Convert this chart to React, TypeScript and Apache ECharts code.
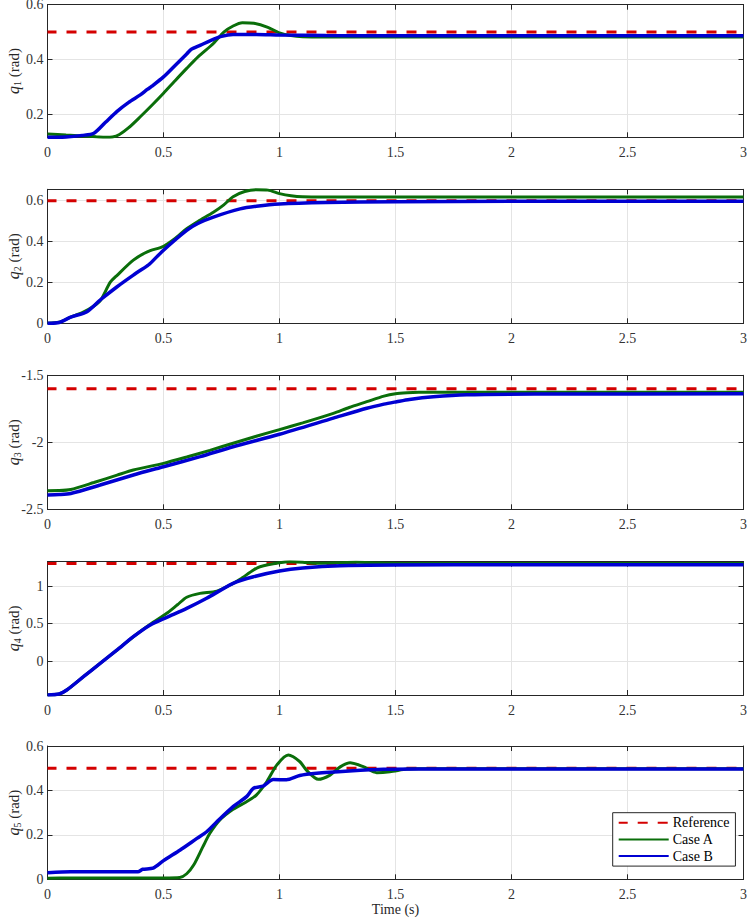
import React, { useEffect, useRef } from 'react';
import * as echarts from 'echarts';

// ---------- data ----------
const refValues = [0.5, 0.6, -1.6, 1.3, 0.5];
const yMins = [0.115, 0, -2.5, -0.453, 0];
const yMaxs = [0.6, 0.656, -1.5, 1.324, 0.6];
const yIntervals = [0.2, 0.2, 0.5, 0.5, 0.2];
const jointNums = ['1', '2', '3', '4', '5'];
const xMin = 0;
const xMax = 3;
const xInterval = 0.5;

const q1TimeA = [0, 0.08, 0.15, 0.21, 0.25, 0.28, 0.31, 0.35, 0.4, 0.45, 0.5, 0.55, 0.6, 0.65, 0.715, 0.76, 0.8, 0.84, 0.89, 0.95, 1.0, 1.05, 1.1, 1.2, 1.5, 2, 2.5, 3];
const q1CaseA = [0.127, 0.123, 0.12, 0.117, 0.115, 0.116, 0.125, 0.15, 0.19, 0.232, 0.276, 0.322, 0.367, 0.41, 0.458, 0.5, 0.522, 0.534, 0.532, 0.517, 0.497, 0.487, 0.483, 0.482, 0.482, 0.482, 0.482, 0.482];
const q1TimeB = [0, 0.08, 0.15, 0.2, 0.25, 0.3, 0.35, 0.4, 0.43, 0.45, 0.5, 0.55, 0.6, 0.62, 0.66, 0.7, 0.75, 0.8, 0.9, 1.0, 1.2, 1.5, 3];
const q1CaseB = [0.115, 0.116, 0.122, 0.13, 0.17, 0.21, 0.243, 0.27, 0.29, 0.302, 0.336, 0.378, 0.42, 0.437, 0.452, 0.468, 0.484, 0.491, 0.491, 0.489, 0.487, 0.486, 0.486];

const q2TimeA = [0, 0.05, 0.1, 0.15, 0.2, 0.23, 0.27, 0.3, 0.37, 0.43, 0.5, 0.55, 0.6, 0.65, 0.715, 0.76, 0.8, 0.85, 0.9, 0.95, 1.0, 1.05, 1.1, 1.2, 1.5, 3];
const q2CaseA = [0, 0.005, 0.03, 0.052, 0.085, 0.115, 0.2, 0.235, 0.309, 0.35, 0.377, 0.415, 0.463, 0.5, 0.544, 0.58, 0.62, 0.645, 0.654, 0.652, 0.635, 0.624, 0.619, 0.618, 0.618, 0.618];
const q2TimeB = [0, 0.05, 0.1, 0.17, 0.227, 0.3, 0.37, 0.428, 0.44, 0.5, 0.6, 0.65, 0.715, 0.83, 0.9, 1.0, 1.2, 1.5, 2, 3];
const q2CaseB = [0, 0.004, 0.03, 0.057, 0.114, 0.179, 0.236, 0.28, 0.29, 0.358, 0.455, 0.49, 0.52, 0.56, 0.573, 0.584, 0.591, 0.595, 0.597, 0.597];

const q3TimeA = [0, 0.05, 0.1, 0.2, 0.3, 0.37, 0.5, 0.6, 0.7, 0.8, 0.9, 1.0, 1.1, 1.232, 1.3, 1.376, 1.45, 1.5, 1.55, 1.6, 1.8, 2, 3];
const q3CaseA = [-2.361, -2.36, -2.352, -2.3, -2.245, -2.207, -2.157, -2.11, -2.06, -2.007, -1.955, -1.905, -1.855, -1.784, -1.74, -1.697, -1.655, -1.637, -1.63, -1.627, -1.626, -1.626, -1.626];
const q3TimeB = [0, 0.05, 0.1, 0.227, 0.37, 0.5, 0.658, 0.8, 1.0, 1.232, 1.376, 1.45, 1.505, 1.56, 1.663, 1.807, 2.1, 3];
const q3CaseB = [-2.393, -2.39, -2.382, -2.319, -2.244, -2.182, -2.107, -2.033, -1.94, -1.82, -1.746, -1.715, -1.697, -1.68, -1.66, -1.645, -1.64, -1.638];

const q4TimeA = [0, 0.05, 0.083, 0.155, 0.227, 0.3, 0.37, 0.443, 0.514, 0.56, 0.6, 0.657, 0.73, 0.8, 0.83, 0.888, 0.916, 1.0, 1.045, 1.1, 1.16, 1.25, 1.33, 1.42, 1.5, 2, 3];
const q4CaseA = [-0.453, -0.44, -0.387, -0.209, -0.031, 0.147, 0.324, 0.49, 0.636, 0.75, 0.85, 0.902, 0.93, 1.036, 1.09, 1.213, 1.257, 1.31, 1.324, 1.318, 1.302, 1.31, 1.316, 1.308, 1.302, 1.3, 1.3];
const q4TimeB = [0, 0.05, 0.083, 0.155, 0.227, 0.3, 0.37, 0.443, 0.514, 0.6, 0.686, 0.8, 0.888, 1.0, 1.1, 1.26, 1.5, 2, 3];
const q4CaseB = [-0.453, -0.44, -0.387, -0.209, -0.031, 0.147, 0.324, 0.48, 0.582, 0.702, 0.836, 1.036, 1.124, 1.2, 1.24, 1.271, 1.28, 1.283, 1.283];

const q5TimeA = [0, 0.1, 0.3, 0.5, 0.57, 0.6, 0.63, 0.67, 0.7, 0.743, 0.8, 0.858, 0.9, 0.945, 0.988, 1.038, 1.088, 1.117, 1.167, 1.218, 1.26, 1.304, 1.361, 1.419, 1.476, 1.548, 1.6, 2, 3];
const q5CaseA = [0.005, 0.006, 0.006, 0.006, 0.008, 0.025, 0.064, 0.147, 0.207, 0.267, 0.315, 0.349, 0.379, 0.439, 0.514, 0.559, 0.529, 0.49, 0.45, 0.469, 0.505, 0.525, 0.507, 0.48, 0.484, 0.496, 0.498, 0.498, 0.498];
const q5TimeB = [0, 0.1, 0.39, 0.41, 0.455, 0.5, 0.572, 0.644, 0.686, 0.73, 0.8, 0.858, 0.888, 0.93, 0.973, 1.03, 1.087, 1.16, 1.3, 1.448, 1.6, 2, 3];
const q5CaseB = [0.03, 0.034, 0.034, 0.045, 0.05, 0.084, 0.132, 0.184, 0.214, 0.259, 0.327, 0.372, 0.41, 0.42, 0.449, 0.448, 0.467, 0.477, 0.487, 0.495, 0.497, 0.497, 0.497];

const timesA = [q1TimeA, q2TimeA, q3TimeA, q4TimeA, q5TimeA];
const valuesA = [q1CaseA, q2CaseA, q3CaseA, q4CaseA, q5CaseA];
const timesB = [q1TimeB, q2TimeB, q3TimeB, q4TimeB, q5TimeB];
const valuesB = [q1CaseB, q2CaseB, q3CaseB, q4CaseB, q5CaseB];
const seriesNames = ['Reference', 'Case A', 'Case B'];

// ---------- layout / style ----------
const gridTops = [4.7, 189.3, 375.3, 561.7, 746];
const gridHeights = [132.6, 134, 134, 133.3, 133.3];
const FONT = 'Liberation Serif, DejaVu Serif, serif';
const AXIS_COLOR = '#262626';
const GRID_COLOR = '#e4e4e4';
const RED = '#d40000';
const GREEN = '#0a6e0a';
const BLUE = '#0000d2';

const zip = (t: number[], v: number[]) => t.map((x, i) => [x, v[i]]);
const isMult = (v: number, step: number) => Math.abs(v / step - Math.round(v / step)) < 1e-6;
const fmt = (v: number) => String(Number(v.toFixed(2)));

function buildOption() {
  const grid: any[] = [];
  const xAxis: any[] = [];
  const yAxis: any[] = [];
  const series: any[] = [];
  for (let i = 0; i < 5; i++) {
    grid.push({
      left: 47.5,
      width: 696,
      top: gridTops[i],
      height: gridHeights[i],
      containLabel: false,
      outerBoundsMode: 'none',
    });
    const common = {
      gridIndex: i,
      type: 'value',
      axisLine: { show: true, onZero: false, lineStyle: { color: AXIS_COLOR, width: 1 } },
      axisTick: { show: true, inside: true, length: 5, lineStyle: { color: AXIS_COLOR, width: 1 } },
    };
    xAxis.push({
      ...common,
      position: 'bottom',
      min: xMin,
      max: xMax,
      interval: xInterval,
      splitLine: { show: true, lineStyle: { color: GRID_COLOR, width: 1 } },
      axisLabel: { color: '#333', fontFamily: FONT, fontSize: 14, margin: 8, formatter: (v: number) => fmt(v) },
      name: i === 4 ? 'Time (s)' : '',
      nameLocation: 'middle',
      nameGap: 23,
      nameMoveOverlap: false,
      nameTextStyle: { color: '#262626', fontFamily: FONT, fontSize: 14 },
    });
    xAxis.push({
      ...common,
      position: 'top',
      min: xMin,
      max: xMax,
      interval: xInterval,
      splitLine: { show: false },
      axisLabel: { show: false },
    });
    const yCommon = {
      ...common,
      min: yMins[i],
      max: yMaxs[i],
      minInterval: yIntervals[i],
      maxInterval: yIntervals[i],
      splitNumber: 3,
    };
    yAxis.push({
      ...yCommon,
      position: 'left',
      splitLine: { show: true, lineStyle: { color: GRID_COLOR, width: 1 } },
      axisLabel: {
        color: '#333',
        fontFamily: FONT,
        fontSize: 14,
        margin: 4,
        formatter: (v: number) => (isMult(v, yIntervals[i]) ? fmt(v) : ''),
      },
      name: `{i|q}{s|${jointNums[i]}} (rad)`,
      nameLocation: 'middle',
      nameRotate: 90,
      nameGap: 25,
      nameMoveOverlap: false,
      nameTextStyle: {
        color: '#262626',
        fontFamily: FONT,
        fontSize: 15,
        lineHeight: 18,
        rich: {
          i: { fontStyle: 'italic', fontSize: 16, fontFamily: FONT, color: '#262626', lineHeight: 18 },
          s: { fontSize: 10, fontFamily: FONT, color: '#262626', verticalAlign: 'bottom', lineHeight: 11 },
        },
      },
    });
    yAxis.push({
      ...yCommon,
      position: 'right',
      splitLine: { show: false },
      axisLabel: { show: false },
    });
    const xi = i * 2;
    const yi = i * 2;
    series.push({
      name: seriesNames[0],
      type: 'line',
      xAxisIndex: xi,
      yAxisIndex: yi,
      data: [[xMin, refValues[i]], [xMax, refValues[i]]],
      symbol: 'none',
      lineStyle: { color: RED, width: 3, type: [10, 10], dashOffset: 0.8 },
      itemStyle: { color: RED },
      z: 2,
    });
    series.push({
      name: seriesNames[1],
      type: 'line',
      xAxisIndex: xi,
      yAxisIndex: yi,
      data: zip(timesA[i], valuesA[i]),
      symbol: 'none',
      smooth: 0.25,
      lineStyle: { color: GREEN, width: 3 },
      itemStyle: { color: GREEN },
      z: 3,
    });
    series.push({
      name: seriesNames[2],
      type: 'line',
      xAxisIndex: xi,
      yAxisIndex: yi,
      data: zip(timesB[i], valuesB[i]),
      symbol: 'none',
      smooth: 0.25,
      lineStyle: { color: BLUE, width: 3.5 },
      itemStyle: { color: BLUE },
      z: 4,
    });
  }
  return {
    animation: false,
    backgroundColor: '#ffffff',
    grid,
    xAxis,
    yAxis,
    series,
    legend: {
      data: seriesNames,
      orient: 'vertical',
      left: 612.7,
      top: 812.7,
      padding: [3, 6, 3, 5],
      itemWidth: 50,
      itemHeight: 14,
      itemGap: 2.7,
      backgroundColor: '#ffffff',
      borderColor: '#262626',
      borderWidth: 1,
      borderRadius: 0,
      selectedMode: false,
      itemStyle: { opacity: 0 },
      textStyle: { color: '#000', fontFamily: FONT, fontSize: 14, padding: [0, 0, 0, -1] },
    },
  };
}

export default function App() {
  const ref = useRef<HTMLDivElement>(null);
  useEffect(() => {
    if (!ref.current) return;
    const chart = echarts.init(ref.current, undefined, { renderer: 'svg' });
    chart.setOption(buildOption() as any);
    return () => chart.dispose();
  }, []);
  return (
    <div
      ref={ref}
      style={{ position: 'absolute', left: 0, top: 0, width: 747, height: 919, background: '#fff' }}
    />
  );
}
